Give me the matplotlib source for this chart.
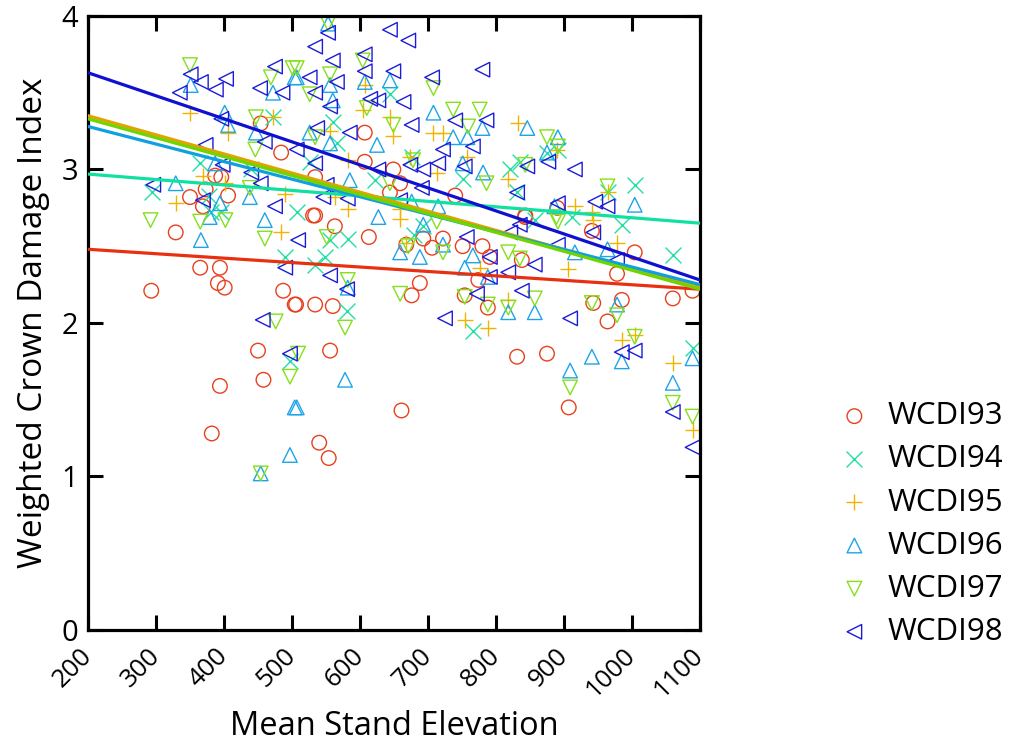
import matplotlib
matplotlib.use("Agg")
import matplotlib.pyplot as plt
import numpy as np

plt.rcParams['font.family'] = ['Open Sans', 'DejaVu Sans']

# Weighted crown damage index per stand, one pair of lists per survey year
elev_93 = [454, 484, 387, 396, 373, 350, 369, 406, 607, 607, 649, 659, 644, 534, 534, 740,
           843, 890, 329, 365, 394, 391, 401, 293, 487, 504, 450, 458, 394, 531, 563, 613,
           668, 693, 706, 722, 751, 780, 791, 774, 754, 788, 688, 676, 506, 534, 560, 556,
           661, 843, 941, 1004, 978, 838, 1060, 1089, 985, 943, 964, 831, 875, 907, 382,
           540, 554]
wcdi_93 = [3.30, 3.11, 2.96, 2.95, 2.87, 2.82, 2.76, 2.83, 3.24, 3.05, 3.00, 2.91, 2.85, 2.95,
           2.70, 2.83, 2.70, 2.75, 2.59, 2.36, 2.36, 2.26, 2.23, 2.21, 2.21, 2.12, 1.82, 1.63,
           1.59, 2.70, 2.63, 2.56, 2.51, 2.55, 2.49, 2.55, 2.50, 2.50, 2.43, 2.28, 2.18, 2.10,
           2.26, 2.18, 2.12, 2.12, 2.11, 1.82, 1.43, 2.69, 2.60, 2.46, 2.32, 2.41, 2.16, 2.21,
           2.15, 2.13, 2.01, 1.78, 1.80, 1.45, 1.28, 1.22, 1.12]

elev_94 = [294, 365, 381, 395, 472, 644, 560, 566, 526, 622, 676, 751, 507, 820, 835, 875,
           891, 831, 1004, 964, 490, 497, 582, 549, 534, 581, 766, 693, 912, 985, 1060, 1089,
           858, 378, 680, 556, 440]
wcdi_94 = [2.85, 3.04, 2.72, 2.72, 3.34, 3.49, 3.31, 3.17, 3.05, 2.93, 3.08, 2.94, 2.72, 3.00,
           3.05, 3.11, 3.13, 2.85, 2.90, 2.85, 2.43, 1.75, 2.55, 2.43, 2.38, 2.08, 1.95, 2.63,
           2.69, 2.64, 2.44, 1.84, 2.67, 2.83, 2.57, 2.54, 3.00]

elev_95 = [350, 472, 406, 369, 402, 329, 490, 607, 604, 644, 649, 708, 722, 556, 582, 674,
           713, 757, 582, 563, 659, 832, 890, 818, 964, 916, 941, 484, 659, 668, 776, 754,
           788, 818, 906, 943, 978, 985, 1004, 1060, 1089]
wcdi_95 = [3.37, 3.34, 3.24, 2.96, 2.91, 2.78, 2.84, 3.55, 3.39, 3.34, 3.22, 3.24, 3.24, 3.25,
           3.06, 3.08, 2.98, 3.08, 2.74, 2.82, 2.74, 3.30, 3.13, 2.94, 2.85, 2.76, 2.72, 2.59,
           2.68, 2.52, 2.36, 2.02, 1.97, 2.15, 2.35, 2.67, 2.52, 1.89, 1.92, 1.74, 1.30]

elev_96 = [329, 351, 401, 406, 447, 472, 504, 387, 438, 394, 553, 507, 556, 607, 644, 560,
           526, 556, 625, 708, 737, 758, 780, 585, 751, 781, 676, 715, 846, 891, 875, 1004,
           886, 460, 366, 379, 504, 627, 693, 659, 688, 722, 766, 754, 582, 788, 578, 507,
           818, 857, 978, 941, 909, 985, 1089, 1060, 916, 964, 454, 497]
wcdi_96 = [2.91, 3.55, 3.37, 3.29, 3.24, 3.50, 3.60, 3.04, 2.82, 2.78, 3.95, 3.60, 3.55, 3.57,
           3.58, 3.45, 3.24, 3.17, 3.16, 3.37, 3.21, 3.21, 3.27, 2.93, 3.04, 2.98, 2.79, 2.76,
           3.27, 3.21, 3.11, 2.77, 2.76, 2.67, 2.54, 2.69, 1.45, 2.69, 2.64, 2.46, 2.43, 2.51,
           2.44, 2.36, 2.23, 2.30, 1.63, 1.45, 2.07, 2.07, 2.12, 1.78, 1.69, 1.75, 1.77, 1.61,
           2.46, 2.48, 1.02, 1.14]

elev_97 = [350, 469, 501, 447, 446, 438, 553, 507, 526, 556, 604, 610, 708, 737, 776, 759,
           649, 534, 678, 644, 786, 875, 891, 964, 843, 889, 292, 365, 402, 460, 476, 497,
           551, 582, 659, 713, 722, 671, 754, 788, 578, 509, 818, 835, 857, 818, 891, 978,
           941, 1004, 909, 1060, 1089, 454]
wcdi_97 = [3.68, 3.60, 3.66, 3.34, 3.13, 2.88, 3.95, 3.66, 3.49, 3.62, 3.71, 3.40, 3.53, 3.39,
           3.39, 3.28, 3.29, 3.21, 3.06, 2.91, 2.91, 3.21, 3.15, 2.89, 3.03, 2.69, 2.67, 2.66,
           2.67, 2.55, 2.01, 1.65, 2.56, 2.28, 2.19, 2.66, 2.46, 2.50, 2.17, 2.12, 1.97, 1.80,
           2.46, 2.42, 2.16, 2.10, 2.66, 2.05, 2.13, 1.91, 1.58, 1.48, 1.39, 1.02]

elev_98 = [335, 351, 366, 388, 403, 453, 475, 486, 396, 460, 373, 398, 296, 440, 454, 475,
           369, 644, 671, 553, 534, 560, 607, 607, 649, 780, 526, 566, 706, 534, 615, 627,
           664, 556, 740, 786, 676, 537, 585, 507, 722, 766, 534, 674, 715, 754, 627, 693,
           551, 691, 546, 582, 659, 846, 877, 916, 831, 891, 946, 964, 490, 457, 497, 509,
           556, 581, 725, 757, 772, 791, 791, 821, 835, 891, 943, 978, 857, 818, 838, 909,
           985, 1004, 1060, 1089]
wcdi_98 = [3.50, 3.62, 3.57, 3.52, 3.59, 3.53, 3.67, 3.50, 3.33, 3.18, 3.16, 3.03, 2.90, 2.98,
           2.91, 2.76, 2.80, 3.91, 3.84, 3.89, 3.80, 3.71, 3.75, 3.64, 3.64, 3.65, 3.60, 3.57,
           3.60, 3.50, 3.46, 3.45, 3.44, 3.41, 3.32, 3.32, 3.29, 3.27, 3.24, 3.13, 3.13, 3.15,
           3.04, 3.03, 3.04, 3.02, 3.00, 3.00, 2.90, 2.88, 2.82, 2.81, 2.80, 3.02, 3.05, 3.00,
           2.85, 2.78, 2.79, 2.76, 2.36, 2.02, 1.80, 2.54, 2.31, 2.22, 2.03, 2.56, 2.19, 2.43,
           2.30, 2.59, 2.64, 2.51, 2.59, 2.41, 2.38, 2.33, 2.21, 2.03, 1.81, 1.82, 1.42, 1.19]

labels = ['WCDI93', 'WCDI94', 'WCDI95', 'WCDI96', 'WCDI97', 'WCDI98']

# linear fits: fitted index at the two ends of the elevation range
fit_x = [200, 1100]
fit_start = [2.48, 2.97, 3.35, 3.28, 3.33, 3.63]
fit_end = [2.22, 2.65, 2.23, 2.25, 2.22, 2.28]

colors = ['#e8401c', '#22e0a4', '#f0b400', '#1ea4e8', '#84e01c', '#1c1cd8']
line_colors = ['#e83010', '#10e0a0', '#e0a400', '#10a0e0', '#70d400', '#1010d0']
markers = ['o', 'x', '+', '^', 'v', '<']

xs = [elev_93, elev_94, elev_95, elev_96, elev_97, elev_98]
ys = [wcdi_93, wcdi_94, wcdi_95, wcdi_96, wcdi_97, wcdi_98]

fig = plt.figure(figsize=(10.21, 7.49), dpi=100)
ax = fig.add_axes([0.0862, 0.1589, 0.5994, 0.8198])

for x, y, c, m, lab in zip(xs, ys, colors, markers, labels):
    if m in ('x', '+'):
        ax.scatter(x, y, marker=m, s=130, c=c, linewidths=1.0, label=lab, zorder=2)
    else:
        ax.scatter(x, y, marker=m, s=110, facecolors='none', edgecolors=c,
                   linewidths=1.0, label=lab, zorder=2)

for s0, s1, c in zip(fit_start, fit_end, line_colors):
    ax.plot(fit_x, [s0, s1], color=c, lw=2.3, zorder=3)

ax.set_xlim(200, 1100)
ax.set_ylim(0, 4)
ax.set_xticks(np.arange(200, 1101, 100))
ax.set_yticks([0, 1, 2, 3, 4])

for sp in ax.spines.values():
    sp.set_linewidth(2.3)
ax.tick_params(direction='in', length=11, width=2.2, top=True, right=True)
ax.tick_params(axis='y', labelsize=21, pad=7)
ax.tick_params(axis='x', labelsize=18.5, pad=16)
plt.setp(ax.get_xticklabels(), rotation=45, ha='right', va='center',
         rotation_mode='anchor')

ax.set_xlabel('Mean Stand Elevation', fontsize=23.5, labelpad=5)
ax.set_ylabel('Weighted Crown Damage Index', fontsize=24, labelpad=8)

ax.legend(loc='lower left', bbox_to_anchor=(0.797, 0.107), bbox_transform=fig.transFigure,
          frameon=False, fontsize=22.5, labelspacing=0.42, handletextpad=0.45,
          handlelength=1.2, scatterpoints=1, borderpad=0.2)

fig.savefig('out.png', dpi=100)
